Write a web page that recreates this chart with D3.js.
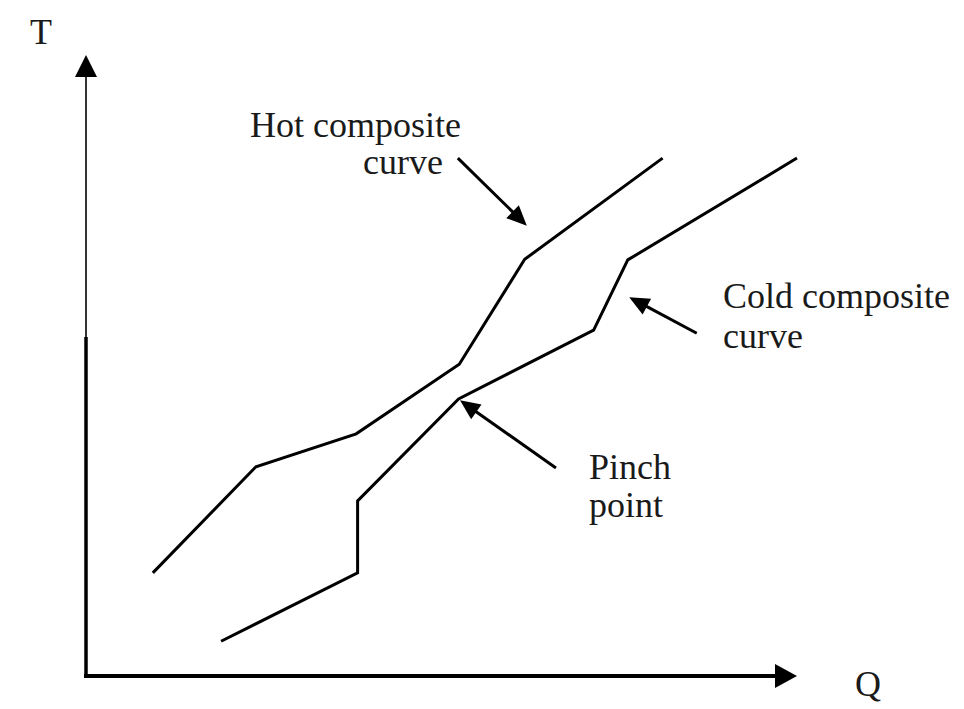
<!DOCTYPE html>
<html>
<head>
<meta charset="utf-8">
<script src="https://cdn.jsdelivr.net/npm/d3@7"></script>
<style>
  html, body { margin: 0; padding: 0; background: #fff; }
  svg text { font-family: "Liberation Serif", "DejaVu Serif", serif; fill: #1a1a1a; }
</style>
</head>
<body>
<div id="chart"></div>
<script>
// composite curves (Q, T in arbitrary units)
const hotQ  = [9.4, 23.9, 38.0, 52.5, 61.7, 81.1];
const hotT  = [16.6, 33.7, 39.0, 50.2, 67.1, 83.4];
const coldQ = [19.0, 38.2, 38.2, 52.4, 71.4, 76.2, 100.0];
const coldT = [5.6, 16.6, 28.2, 44.6, 55.7, 67.0, 83.4];

// annotation arrows: tail -> tip
const noteNames = ['hot', 'cold', 'pinch'];
const noteFrom  = [[52.3, 83.4], [85.9, 55.2], [66.1, 33.5]];
const noteTo    = [[62.0, 72.5], [76.4, 61.0], [52.6, 44.4]];

const W = 964, H = 709;
const x = d3.scaleLinear().domain([0, 100]).range([86, 797]);
const y = d3.scaleLinear().domain([0, 100]).range([676, 55]);

const svg = d3.select('#chart').append('svg')
  .attr('width', W).attr('height', H);

const arrowHead = (g, tx, ty, angle, len, half) => {
  // filled triangle pointing along angle
  const c = Math.cos(angle), s = Math.sin(angle);
  const bx = tx - c * len, by = ty - s * len;
  const pts = [[tx, ty], [bx - s * half, by + c * half], [bx + s * half, by - c * half]];
  g.append('path').attr('d', 'M' + pts.join('L') + 'Z').attr('fill', '#000');
};

// axes (no ticks)
const xAxis = svg.append('g')
  .attr('transform', `translate(0, ${y(0)})`)
  .call(d3.axisBottom(x).tickValues([]).tickSizeOuter(0));
xAxis.select('.domain').attr('stroke', '#000').attr('stroke-width', 4)
  .attr('d', `M${x(0) - 2},0H${x(100) - 20}`);

const yAxis = svg.append('g')
  .attr('transform', `translate(${x(0)}, 0)`)
  .call(d3.axisLeft(y).tickValues([]).tickSizeOuter(0));
yAxis.select('.domain').attr('stroke', '#000').attr('stroke-width', 1.6)
  .attr('d', `M0,${y(0) + 2}V${y(100) + 20}`);
// lower part of the T axis is drawn heavier in the original
svg.append('line')
  .attr('x1', x(0)).attr('x2', x(0))
  .attr('y1', y(0) + 2).attr('y2', y(54.6))
  .attr('stroke', '#000').attr('stroke-width', 3.5);

const axG = svg.append('g');
arrowHead(axG, x(100), y(0), 0, 22, 12);
arrowHead(axG, x(0), y(100), -Math.PI / 2, 22, 11);

svg.append('text').attr('x', 30).attr('y', 44).attr('font-size', 36).text('T');
svg.append('text').attr('x', 855).attr('y', 696).attr('font-size', 36).text('Q');

// curves
const line = d3.line().x(d => x(d[0])).y(d => y(d[1]));
const hot = d3.zip(hotQ, hotT);
const cold = d3.zip(coldQ, coldT);

svg.append('path').datum(hot)
  .attr('d', line).attr('fill', 'none')
  .attr('stroke', '#000').attr('stroke-width', 3).attr('stroke-linejoin', 'miter');
svg.append('path').datum(cold)
  .attr('d', line).attr('fill', 'none')
  .attr('stroke', '#000').attr('stroke-width', 3).attr('stroke-linejoin', 'miter');

// annotation arrows
const notes = svg.append('g');
noteNames.forEach((n, i) => {
  const [x0, y0] = [x(noteFrom[i][0]), y(noteFrom[i][1])];
  const [x1, y1] = [x(noteTo[i][0]), y(noteTo[i][1])];
  const a = Math.atan2(y1 - y0, x1 - x0);
  const len = 20;
  notes.append('line')
    .attr('x1', x0).attr('y1', y0)
    .attr('x2', x1 - Math.cos(a) * (len - 2)).attr('y2', y1 - Math.sin(a) * (len - 2))
    .attr('stroke', '#000').attr('stroke-width', 3);
  arrowHead(notes, x1, y1, a, len, 9);
});

// labels
const labels = svg.append('g').attr('font-size', 36);
labels.append('text').attr('x', 250).attr('y', 137).text('Hot composite');
labels.append('text').attr('x', 363).attr('y', 174).text('curve');
labels.append('text').attr('x', 723).attr('y', 308).text('Cold composite');
labels.append('text').attr('x', 723).attr('y', 348).text('curve');
labels.append('text').attr('x', 589).attr('y', 479).text('Pinch');
labels.append('text').attr('x', 589).attr('y', 517).text('point');
</script>
</body>
</html>
